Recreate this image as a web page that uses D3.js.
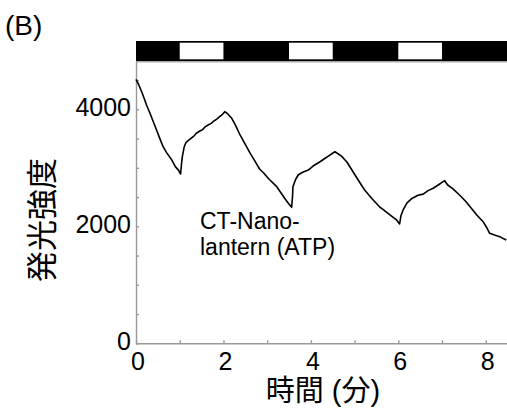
<!DOCTYPE html>
<html><head><meta charset="utf-8">
<script src="https://cdn.jsdelivr.net/npm/d3@7"></script>
<style>body{margin:0;background:#fff}svg{display:block}</style>
</head><body>
<svg id="c" width="507" height="410"></svg>
<script>
const timeMin = [0.00,0.05,0.13,0.20,0.24,0.32,0.40,0.47,0.55,0.62,0.70,0.82,0.90,0.97,1.02,1.04,1.06,1.10,1.14,1.22,1.31,1.38,1.46,1.52,1.58,1.65,1.72,1.78,1.84,1.92,1.98,2.03,2.10,2.19,2.28,2.38,2.50,2.61,2.70,2.83,2.91,3.05,3.22,3.40,3.48,3.56,3.58,3.59,3.65,3.71,3.80,3.94,4.05,4.21,4.30,4.40,4.48,4.55,4.62,4.70,4.82,4.95,5.10,5.23,5.40,5.58,5.65,5.80,5.96,6.03,6.06,6.11,6.20,6.30,6.45,6.57,6.68,6.80,6.92,7.00,7.06,7.13,7.25,7.40,7.55,7.67,7.80,7.94,8.02,8.09,8.20,8.32,8.40,8.47];
const intensity = [4513,4440,4300,4160,4074,3932,3780,3646,3490,3361,3260,3133,3020,2960,2894,3060,3190,3350,3429,3480,3532,3590,3629,3650,3700,3732,3760,3800,3829,3880,3915,3959,3920,3846,3720,3561,3400,3250,3140,2975,2920,2800,2677,2480,2400,2325,2500,2677,2800,2877,2920,2962,3030,3104,3150,3200,3240,3275,3240,3200,3104,2950,2770,2621,2470,2325,2290,2200,2108,2040,2180,2279,2400,2470,2530,2550,2610,2650,2710,2750,2780,2706,2640,2535,2420,2308,2190,2079,1980,1880,1850,1823,1790,1766];
const lightOn = [[1,2],[3.5,4.5],[6,7]];
const xTicks = [0,2,4,6,8];
const xMinor = [0,1,2,3,4,5,6,7,8];
const yTicks = [0,2000,4000];
const yMinor = [0,500,1000,1500,2000,2500,3000,3500,4000,4500];
const panelLabel = "(B)";
const xTitle = "時間 (分)";
const yTitle = "発光強度";
const annot = ["CT-Nano-","lantern (ATP)"];

const svg = d3.select("#c");
const L = 136, R = 507.6, T = 62.5, B = 343.3;
const x = d3.scaleLinear().domain([0,8.5]).range([L,R]);
const y = d3.scaleLinear().domain([0,4800]).range([B,T]);
const axisCol = "#999";
const latin = "'Liberation Sans', Arial, 'Noto Sans CJK JP', sans-serif";

// light/dark bar
svg.append("rect").attr("x",x(0)).attr("y",41).attr("width",x(8.5)-x(0)).attr("height",20).attr("fill","#000");
svg.selectAll(".on").data(lightOn).join("rect")
  .attr("x",d=>x(d[0])).attr("y",42.7).attr("width",d=>x(d[1])-x(d[0])).attr("height",16.6).attr("fill","#fff");
svg.append("line").attr("x1",x(0)).attr("x2",R).attr("y1",61.8).attr("y2",61.8).attr("stroke","#aaa").attr("stroke-width",1.5);

// axes
const gx = svg.append("g").attr("transform",`translate(0,${B})`)
  .call(d3.axisBottom(x).tickValues(xMinor).tickSize(-3).tickFormat(""));
const gy = svg.append("g").attr("transform",`translate(${L},0)`)
  .call(d3.axisLeft(y).tickValues(yMinor).tickSize(-3).tickFormat(""));
[gx,gy].forEach(g=>{g.selectAll("path,line").attr("stroke",axisCol).attr("stroke-width",1.4);});
gx.select(".domain").attr("d",`M${L},0.5H${R}`);
gy.select(".domain").attr("d",`M0.5,${B}V${T-1}`);

// tick labels
svg.selectAll(".xl").data(xTicks).join("text")
  .attr("x",d=>x(d)+2).attr("y",370).attr("text-anchor","middle")
  .attr("font-family",latin).attr("font-size",25).text(d=>d);
svg.selectAll(".yl").data(yTicks).join("text")
  .attr("x",L-5).attr("y",d=>y(d)+7).attr("text-anchor","end")
  .attr("font-family",latin).attr("font-size",25).text(d=>d);

// titles
svg.append("text").attr("x",323).attr("y",401).attr("text-anchor","middle")
  .attr("font-family",latin).attr("font-size",29).text(xTitle);
svg.append("text").attr("transform","translate(42,220) rotate(-90)")
  .attr("text-anchor","middle").attr("dominant-baseline","central")
  .attr("font-family",latin).attr("font-size",31).text(yTitle);
svg.append("text").attr("x",5).attr("y",35).attr("font-family",latin).attr("font-size",28).text(panelLabel);

// annotation
svg.selectAll(".an").data(annot).join("text")
  .attr("x",200).attr("y",(d,i)=>229+i*26)
  .attr("font-family",latin).attr("font-size",23).text(d=>d);

// line
const pts = timeMin.map((t,i)=>[t,intensity[i]]);
svg.append("path").datum(pts)
  .attr("fill","none").attr("stroke","#000").attr("stroke-width",1.6).attr("stroke-linejoin","round")
  .attr("d",d3.line().x(d=>x(d[0])).y(d=>y(d[1])));
</script>
</body></html>
